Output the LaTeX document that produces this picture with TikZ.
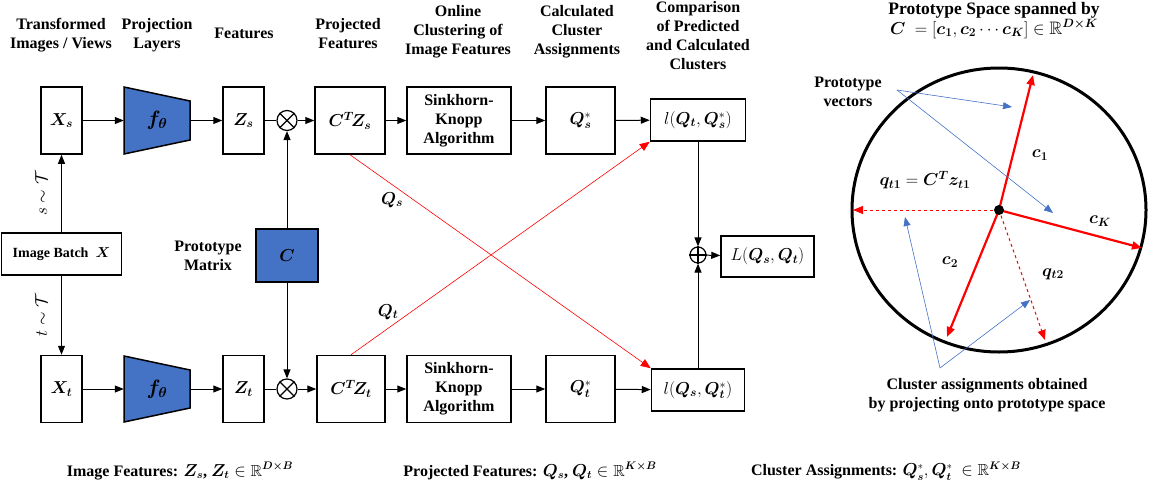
\documentclass[tikz,border=0pt]{standalone}
\usepackage{amsmath,amssymb,bm}
\usepackage{fontspec}
\setmainfont{Liberation Serif}
\usetikzlibrary{arrows.meta,shapes.geometric,calc}
\definecolor{pblue}{HTML}{4472C4}
\definecolor{pred}{HTML}{FF0000}
\begin{document}
\begin{tikzpicture}[x=1pt,y=-1pt,
  every node/.style={font=\fontsize{16}{19}\selectfont\bfseries, inner sep=0pt},
  lbl/.style={align=center},
  box/.style={draw, line width=1.5pt, align=center},
  mathbig/.style={font=\fontsize{18}{20}\selectfont},
  tiny/.style={font=\fontsize{16}{19}\selectfont},
  opc/.style={draw, circle, line width=1.2pt, minimum size=#1},
  conn/.style={line width=1pt, -{Triangle[length=9pt,width=7pt]}},
  plain/.style={line width=1pt},
  redc/.style={draw=pred, line width=0.6pt, -{Triangle[length=10pt,width=8pt]}, pred},
  vec/.style={draw=pred, line width=2.2pt, -{Triangle[length=10pt,width=8pt]}, pred},
  dvec/.style={draw=pred, line width=1pt, dashed, -{Triangle[length=10pt,width=8pt]}, pred},
  bluec/.style={draw=pblue, line width=0.6pt, -{Triangle[length=9pt,width=7pt]}, pblue},
  trap/.style={fill=pblue, draw=black, line width=1.5pt}
]
\useasboundingbox (0,0) rectangle (1151,490);

% ---------- column titles ----------
\node[lbl] (t1) at (61,35) {Transformed\\Images / Views};
\node[lbl] (t2) at (157,35) {Projection\\Layers};
\node[lbl] (t3) at (244,33) {Features};
\node[lbl] (t4) at (348,34) {Projected\\Features};
\node[lbl] (t5) at (458,32) {Online\\Clustering of\\Image Features};
\node[lbl] (t6) at (577,32) {Calculated\\Cluster\\Assignments};
\node[lbl] (t7) at (698,36) {Comparison\\of Predicted\\and Calculated\\Clusters};

% ---------- top row ----------
\node[box, mathbig, minimum width=41pt, minimum height=67pt] (xs) at (61.5,120.5) {$\bm{X_s}$};
\draw[trap] (124,87) -- (190,101) -- (190,140) -- (124,154) -- cycle;
\node[minimum width=66pt, minimum height=67pt, font=\fontsize{21}{22}\selectfont] (fs) at (157,120.5) {$\bm{f_\theta}$};
\node[box, mathbig, minimum width=41pt, minimum height=67pt] (zs) at (243.5,120.5) {$\bm{Z_s}$};
\node[opc=20pt] (os) at (287,120.5) {};
\draw[line width=1.2pt] (os.45) -- (os.225) (os.135) -- (os.315);
\node[box, mathbig, minimum width=70pt, minimum height=67pt] (cs) at (350,120.5) {$\bm{C^T\!Z_s}$};
\node[box, minimum width=104pt, minimum height=67pt] (sks) at (459,120.5) {Sinkhorn-\\Knopp\\Algorithm};
\node[box, mathbig, minimum width=69pt, minimum height=67pt] (qs) at (580.5,120.5) {$\bm{Q}^*_{\bm{s}}$};
\node[box, mathbig, minimum width=95pt, minimum height=42pt] (ls) at (698,120) {$l(\bm{Q}_{\bm{t}},\bm{Q}^*_{\bm{s}})$};

% ---------- bottom row ----------
\node[box, mathbig, minimum width=41pt, minimum height=67pt] (xt) at (61.5,389) {$\bm{X_t}$};
\draw[trap] (124,356) -- (190,370) -- (190,408) -- (124,422) -- cycle;
\node[minimum width=66pt, minimum height=67pt, font=\fontsize{21}{22}\selectfont] (ft) at (157,389) {$\bm{f_\theta}$};
\node[box, mathbig, minimum width=41pt, minimum height=67pt] (zt) at (243.5,389) {$\bm{Z_t}$};
\node[opc=20pt] (ot) at (287,389) {};
\draw[line width=1.2pt] (ot.45) -- (ot.225) (ot.135) -- (ot.315);
\node[box, mathbig, minimum width=68pt, minimum height=67pt] (ct) at (351,389) {$\bm{C^T\!Z_t}$};
\node[box, minimum width=104pt, minimum height=67pt] (skt) at (459,389) {Sinkhorn-\\Knopp\\Algorithm};
\node[box, mathbig, minimum width=69pt, minimum height=67pt] (qt) at (580.5,389) {$\bm{Q}^*_{\bm{t}}$};
\node[box, mathbig, minimum width=93pt, minimum height=42pt] (lt) at (698,390) {$l(\bm{Q}_{\bm{s}},\bm{Q}^*_{\bm{t}})$};

% ---------- middle ----------
\node[box, minimum width=120pt, minimum height=42pt, font=\fontsize{14}{17}\selectfont\bfseries] (ib) at (61.5,254) {Image Batch \ $\bm{X}$};
\node[box, fill=pblue, mathbig, minimum width=62pt, minimum height=53pt] (cm) at (287,255.5) {$\bm{C}$};
\node[lbl] (pm) at (208,256) {Prototype\\Matrix};
\node[opc=16pt] (pl) at (698,255) {};
\draw[line width=1.2pt] (pl.north) -- (pl.south) (pl.west) -- (pl.east);
\node[box, mathbig, minimum width=93pt, minimum height=41pt] (lL) at (767.5,256.5) {$L(\bm{Q}_{\bm{s}},\bm{Q}_{\bm{t}})$};

% ---------- connectors ----------
\draw[conn] (xs) -- (fs);
\draw[conn] (fs) -- (zs);
\draw[plain] (zs) -- (os);
\draw[conn] (os) -- (cs);
\draw[conn] (cs) -- (sks);
\draw[conn] (sks) -- (qs);
\draw[conn] (qs) -- (ls);
\draw[conn] (xt) -- (ft);
\draw[conn] (ft) -- (zt);
\draw[plain] (zt) -- (ot);
\draw[conn] (ot) -- (ct);
\draw[conn] (ct) -- (skt);
\draw[conn] (skt) -- (qt);
\draw[conn] (qt) -- (lt);
\draw[conn] (ib) -- node[left=14pt, tiny, rotate=90, anchor=south] {$s\sim\mathcal{T}$} (xs);
\draw[conn] (ib) -- node[left=14pt, tiny, rotate=90, anchor=south] {$t\sim\mathcal{T}$} (xt);
\draw[conn] (cm) -- (os);
\draw[conn] (cm) -- (ot);
\draw[conn] (ls) -- (pl);
\draw[conn] (lt) -- (pl);
\draw[conn] (pl) -- (lL);
\draw[redc] (cs.south) -- (lt.north west);
\draw[redc] (ct.north) -- (ls.south west);
\node[mathbig] (lqs) at (392,200) {$\bm{Q}_{\bm{s}}$};
\node[mathbig] (lqt) at (388,312) {$\bm{Q}_{\bm{t}}$};

% ---------- prototype space ----------
\node[lbl, font=\fontsize{17.5}{20}\selectfont\bfseries] (ttl) at (994,10) {Prototype Space spanned by};
\node[mathbig] (ttm) at (994,29) {$\bm{C}\ = [\bm{c_1},\bm{c_2}\cdots \bm{c_K}]\in\mathbb{R}^{\bm{D\times K}}$};
\draw[line width=3pt] (999,210) ellipse [x radius=147pt, y radius=142pt];
\coordinate (o) at (999,210);
\coordinate (e1) at (1033,75);
\coordinate (eK) at (1142,248);
\coordinate (e2) at (947,337);
\coordinate (eq1) at (853,210);
\coordinate (eq2) at (1045,340);
\draw[vec] (o) -- (e1);
\draw[vec] (o) -- (eK);
\draw[vec] (o) -- (e2);
\draw[dvec] (o) -- (eq1);
\draw[dvec] (o) -- (eq2);
\fill (o) circle (5pt);
\node[mathbig] (lc1) at (1040,155) {$\bm{c_1}$};
\node[mathbig] (lcK) at (1100,221) {$\bm{c_K}$};
\node[mathbig] (lc2) at (950,262) {$\bm{c_2}$};
\node[mathbig] (lq1) at (925,180) {$\bm{q_{t1}} = \bm{C^T z_{t1}}$};
\node[mathbig] (lq2) at (1053,274) {$\bm{q_{t2}}$};
\node[lbl] (pv) at (848,92) {Prototype\\vectors};
\coordinate (pvp) at (897,90);
\coordinate (pva) at (1012,107);
\coordinate (pvb) at (1053,213);
\draw[bluec] (pvp) -- (pva);
\draw[bluec] (pvp) -- (pvb);
\coordinate (cap) at (940,368);
\coordinate (caa) at (905,217);
\coordinate (cab) at (1030,300);
\draw[bluec] (cap) -- (caa);
\draw[bluec] (cap) -- (cab);
\node[lbl] (ca) at (987,395) {Cluster assignments obtained\\by projecting onto prototype space};

% ---------- legend ----------
\node (lg1) at (180,471) {Image Features: $\bm{Z_s}$, $\bm{Z_t}\in\mathbb{R}^{\bm{D\times B}}$};
\node (lg2) at (530,471) {Projected Features: $\bm{Q_s}$, $\bm{Q_t}\in\mathbb{R}^{\bm{K\times B}}$};
\node (lg3) at (886,471) {Cluster Assignments: $\bm{Q}^*_{\bm{s}}, \bm{Q}^*_{\bm{t}}\ \in\mathbb{R}^{\bm{K\times B}}$};
\end{tikzpicture}
\end{document}
